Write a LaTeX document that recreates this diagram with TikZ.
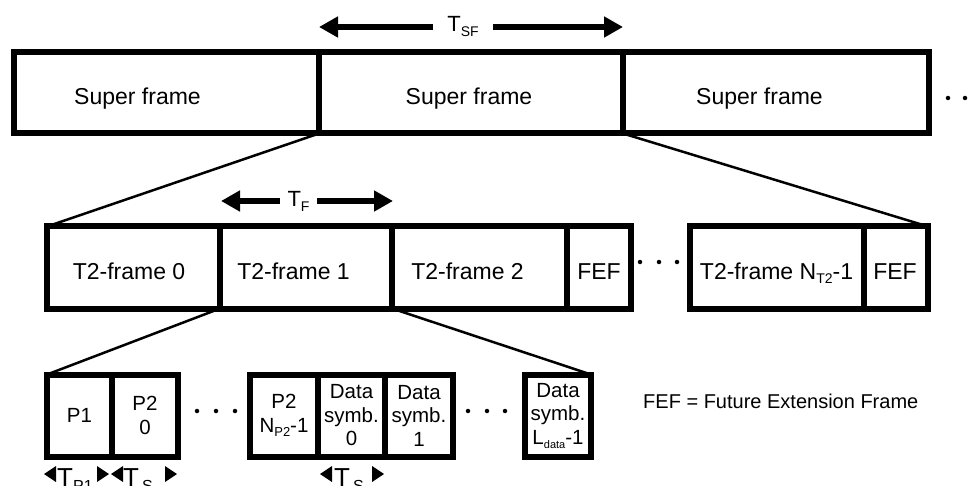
\documentclass[tikz,border=0pt]{standalone}
\usepackage{fontspec}
\setmainfont{Liberation Sans}
\usetikzlibrary{arrows.meta}
\newcommand\lowsub[3]{\raisebox{-#1pt}{\fontsize{#2pt}{#2pt}\selectfont #3}}
\newcommand\lefttri[2]{\fill (#1,#2) -- ++(12,-8) -- ++(0,16) -- cycle;}
\newcommand\righttri[2]{\fill (#1,#2) -- ++(-12,-8) -- ++(0,16) -- cycle;}
\begin{document}
\begin{tikzpicture}[x=1pt,y=-1pt,
  cell/.style={draw, line width=6pt, inner sep=0pt, outer sep=0pt, minimum height=82pt, align=center, font=\fontsize{20.5pt}{23.5pt}\selectfont},
  conn/.style={line width=2.5pt},
  dimarrow/.style={line width=6pt, -{Triangle[length=19pt,width=20pt]}},
  txtbig/.style={inner sep=0pt, anchor=base, font=\fontsize{23pt}{27pt}\selectfont},
  txtsmall/.style={inner sep=0pt, anchor=base west, font=\fontsize{20pt}{23pt}\selectfont},
  txtbot/.style={inner sep=0pt, anchor=base west, font=\fontsize{26pt}{30pt}\selectfont},
  dimlbl/.style={inner sep=0pt, font=\fontsize{22pt}{26pt}\selectfont},
  dotmark/.style={circle, fill, inner sep=0pt, minimum size=4.5pt},
]
\useasboundingbox (0,0) rectangle (976,486);

% ---- top row
\node[cell, minimum width=305pt, minimum height=81pt] (sf1) at (166.5,93) {};
\node[cell, minimum width=304pt, minimum height=81pt] (sf2) at (471,93) {};
\node[cell, minimum width=306pt, minimum height=81pt] (sf3) at (776,93) {};
\node[txtbig] (sft1) at (137.5,105) {Super frame};
\node[txtbig] (sft2) at (469,105) {Super frame};
\node[txtbig] (sft3) at (759.5,105) {Super frame};
\node[dotmark] (td1) at (948,98) {};
\node[dotmark] (td2) at (965,98) {};

% T_SF
\coordinate (sfl) at (319,27);
\coordinate (sfr) at (623,27);
\node[dimlbl, minimum width=60pt] (tsf) at (463,27) {T\lowsub{5}{14}{SF}};
\draw[dimarrow] (tsf.west) -- (sfl);
\draw[dimarrow] (tsf.east) -- (sfr);

% ---- second row
\node[cell, minimum width=173pt] (f0) at (133.5,267.5) {};
\node[cell, minimum width=172pt] (f1) at (306,267.5) {};
\node[cell, minimum width=175pt] (f2) at (479.5,267.5) {};
\node[cell, minimum width=64pt] (fef1) at (599,267.5) {};
\node[cell, minimum width=174pt] (fn) at (777,267.5) {};
\node[cell, minimum width=64pt] (fef2) at (896,267.5) {};
\node[txtbig] (ft0) at (129,279) {T2-frame 0};
\node[txtbig] (ft1) at (293.5,279) {T2-frame 1};
\node[txtbig] (ft2) at (467.5,279) {T2-frame 2};
\node[txtbig] (ft3) at (599,279) {FEF};
\node[txtbig] (ft4) at (776.5,279) {T2-frame N\lowsub{4}{14}{T2}-1};
\node[txtbig] (ft5) at (895,279) {FEF};
\node[dotmark] (sd1) at (640,262) {};
\node[dotmark] (sd2) at (659,262) {};
\node[dotmark] (sd3) at (677,262) {};

% T_F
\coordinate (fl) at (221,201);
\coordinate (fr) at (393,201);
\node[dimlbl, minimum width=37pt] (tf) at (298.5,201) {T\lowsub{5}{14}{F}};
\draw[dimarrow] (tf.west) -- (fl);
\draw[dimarrow] (tf.east) -- (fr);

% ---- third row
\node[cell, minimum width=65pt] (p1) at (79.5,415.5) {P1};
\node[cell, minimum width=66pt] (p20) at (145,415.5) {P2\\0};
\node[cell, minimum width=68pt] (p2n) at (284,415.5) {P2\\N\lowsub{4}{13}{P2}-1};
\node[cell, minimum width=67pt] (d0) at (351.5,415.5) {Data\\symb.\\0};
\node[cell, minimum width=68pt] (d1) at (419,415.5) {Data\\symb.\\1};
\node[cell, minimum width=66pt] (dl) at (558,415.5) {Data\\symb.\\L\lowsub{4}{11}{data}-1};
\node[dotmark] (pd1) at (197,411) {};
\node[dotmark] (pd2) at (216,411) {};
\node[dotmark] (pd3) at (235,411) {};
\node[dotmark] (pd4) at (468,411) {};
\node[dotmark] (pd5) at (487,411) {};
\node[dotmark] (pd6) at (505,411) {};

\node[txtsmall] (legend) at (643,408) {FEF = Future Extension Frame};

% ---- connectors
\draw[conn] (sf1.south east) -- (f0.north west);
\draw[conn] (sf2.south east) -- (fef2.north east);
\draw[conn] (f0.south east) -- (p1.north west);
\draw[conn] (f1.south east) -- (dl.north east);

% ---- bottom markers
\lefttri{44}{474}
\righttri{109}{474}
\node[txtbot] (tp1) at (57,486) {T\lowsub{5}{16}{P1}};
\lefttri{111}{474}
\righttri{177}{474}
\node[txtbot] (ts1) at (123,486) {T\kern3pt\lowsub{5}{16}{S}};
\lefttri{320}{474}
\righttri{384}{474}
\node[txtbot] (ts2) at (334,486) {T\kern3pt\lowsub{5}{16}{S}};
\end{tikzpicture}
\end{document}
